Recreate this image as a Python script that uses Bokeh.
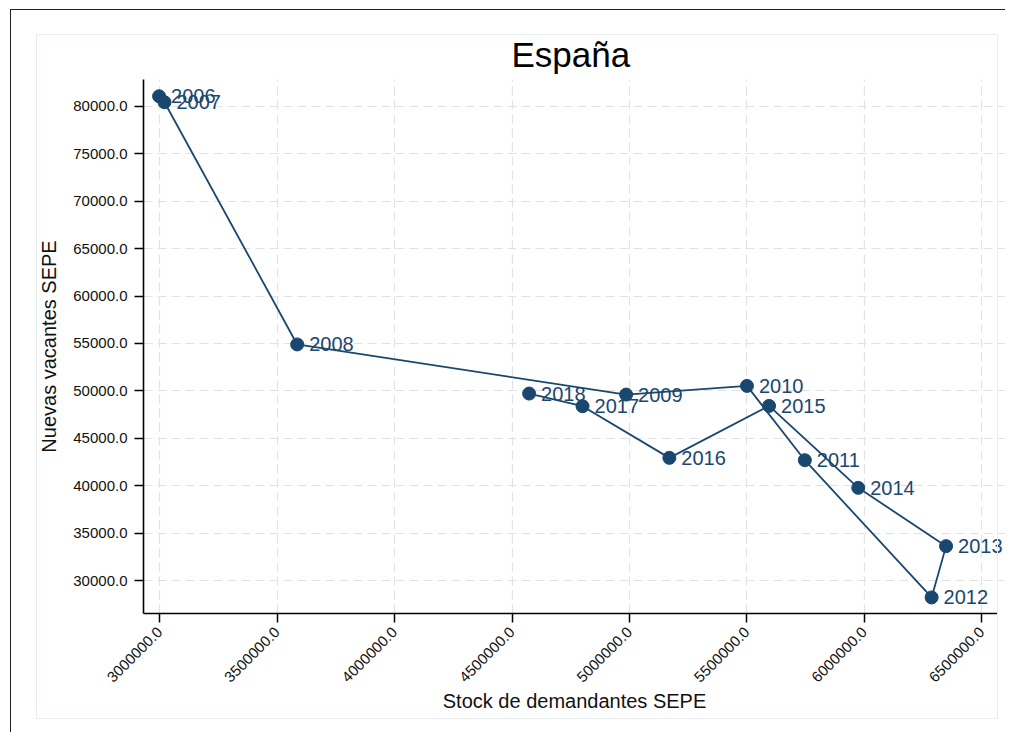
import math
from bokeh.plotting import figure
from bokeh.models import (ColumnDataSource, FixedTicker, NumeralTickFormatter,
                          Range1d, LabelSet, InlineStyleSheet)
from bokeh.core.properties import value
from bokeh.embed import file_html
from bokeh.resources import INLINE

# ---- data ----
years = ["2006", "2007", "2008", "2009", "2010", "2011", "2012",
         "2013", "2014", "2015", "2016", "2017", "2018"]
stock = [2997000, 3020000, 3585000, 4985500, 5500000, 5746400, 6286200,
         6347800, 5973900, 5594200, 5169600, 4800000, 4572500]
vacantes = [81084, 80453, 54900, 49613, 50527, 42691, 28215,
            33626, 39775, 48419, 42937, 48384, 49719]
x_ticks = [3000000, 3500000, 4000000, 4500000, 5000000, 5500000, 6000000, 6500000]
y_ticks = [30000, 35000, 40000, 45000, 50000, 55000, 60000, 65000, 70000, 75000, 80000]

NAVY = "#1a476f"
FONT = "Liberation Sans"

src = ColumnDataSource(dict(x=stock, y=vacantes, year=years))

p = figure(width=1005, height=732, output_backend="svg", toolbar_location=None,
           x_range=Range1d(2930600, 6600824), y_range=Range1d(26519, 82848),
           min_border_left=143, min_border_right=0, min_border_top=79,
           min_border_bottom=119)

p.background_fill_color = "white"
p.border_fill_color = "white"
p.outline_line_color = None

# decorative frames (outer dark, inner light) drawn with CSS on the host
p.stylesheets = [InlineStyleSheet(css="""
:host::before {
  content: ""; position: absolute; left: 10px; top: 9px; right: 0; bottom: 0;
  border-left: 1.5px solid #222; border-top: 1.5px solid #222;
  pointer-events: none; z-index: 5;
}
:host::after {
  content: ""; position: absolute; left: 36px; top: 34px; width: 962px; height: 685px;
  border: 1.5px solid #e6eef0; box-sizing: border-box;
  pointer-events: none; z-index: 5;
}
""")]

# title
p.title.text = "España"
p.title.align = "left"
p.title.offset = 368
p.title.text_font = FONT
p.title.text_font_size = "35px"
p.title.text_font_style = "normal"
p.title.text_color = "black"
p.title.standoff = 12

# axes
for ax in (p.xaxis[0], p.yaxis[0]):
    ax.axis_line_color = "black"
    ax.axis_line_width = 1.6
    ax.major_tick_line_color = "black"
    ax.major_tick_line_width = 1.5
    ax.major_tick_out = 9
    ax.major_tick_in = 0
    ax.minor_tick_line_color = None
    ax.major_label_text_font = FONT
    ax.major_label_text_font_size = "15px"
    ax.major_label_text_color = "#111111"
    ax.major_label_standoff = 7
    ax.axis_label_text_font = FONT
    ax.axis_label_text_font_size = "20px"
    ax.axis_label_text_font_style = "normal"
    ax.axis_label_text_color = "#111111"
    ax.formatter = NumeralTickFormatter(format="0.0")

p.xaxis[0].ticker = FixedTicker(ticks=x_ticks)
p.yaxis[0].ticker = FixedTicker(ticks=y_ticks)
p.xaxis[0].bounds = (2930600, 6566850)
p.xaxis[0].major_label_orientation = math.pi / 4
p.xaxis[0].axis_label = "Stock de demandantes SEPE"
p.yaxis[0].axis_label = "Nuevas vacantes SEPE"
p.xaxis[0].axis_label_standoff = 0
p.yaxis[0].axis_label_standoff = 10

# grid
for g in (p.xgrid[0], p.ygrid[0]):
    g.grid_line_color = "#e2e2e2"
    g.grid_line_width = 1.2
    g.grid_line_dash = "9 5"

# data
p.line("x", "y", source=src, line_color=NAVY, line_width=1.8)
p.scatter("x", "y", source=src, size=13, fill_color=NAVY, line_color=NAVY)
p.add_layout(LabelSet(x="x", y="y", text="year", source=src, x_offset=12, y_offset=0,
                      text_font=value(FONT), text_font_size=value("20px"),
                      text_color=NAVY, text_baseline="middle", text_align="left"))

open("out.html", "w").write(file_html(p, INLINE))
